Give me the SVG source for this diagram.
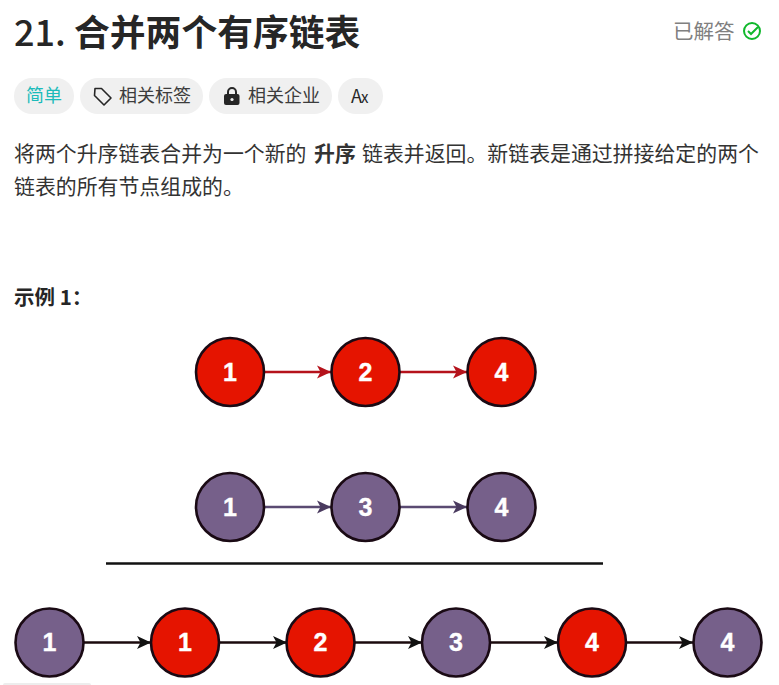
<svg xmlns="http://www.w3.org/2000/svg" width="779" height="685" viewBox="0 0 779 685">
<style>
text{font-family:"Noto Sans CJK SC","Noto Sans",sans-serif}
.num{font-family:"Liberation Sans",Arial,sans-serif;font-weight:700;font-size:25px;fill:#fff;text-anchor:middle;stroke:#fff;stroke-width:.4}
.r{fill:#e51400;stroke:#1a0a14;stroke-width:2.6}
.p{fill:#76608a;stroke:#1a0a14;stroke-width:2.6}
.pill{fill:#f0f0f0}
.tag{font-size:18px;fill:#3c3c3c}
.body{font-size:20.900px;fill:#333}
.lr{stroke:#b5121b;stroke-width:2.500;fill:none;marker-end:url(#ar)}
.lp{stroke:#5a4a72;stroke-width:2.500;fill:none;marker-end:url(#ap)}
.lk{stroke:#1a0a0c;stroke-width:2.600;fill:none;marker-end:url(#ak)}
</style>
<defs>
<marker id="ar" markerUnits="userSpaceOnUse" markerWidth="15" markerHeight="15" refX="14" refY="7.500" orient="auto"><path d="M0 1 L14 7.500 L0 14 L3.500 7.500Z" fill="#b5121b"/></marker>
<marker id="ap" markerUnits="userSpaceOnUse" markerWidth="15" markerHeight="15" refX="14" refY="7.500" orient="auto"><path d="M0 1 L14 7.500 L0 14 L3.500 7.500Z" fill="#4a3a5f"/></marker>
<marker id="ak" markerUnits="userSpaceOnUse" markerWidth="15" markerHeight="15" refX="14" refY="7.500" orient="auto"><path d="M0 1 L14 7.500 L0 14 L3.500 7.500Z" fill="#111"/></marker>
</defs>
<rect width="779" height="685" fill="#fff"/>
<g id="header">
<text x="14" y="46" font-size="36" font-weight="500" fill="#262626">21.</text>
<text x="74" y="46" font-size="35.800" font-weight="700" fill="#262626">合并两个有序链表</text>
<text x="673" y="39" font-size="20.500" fill="#808080">已解答</text>
<circle cx="752" cy="31" r="8" fill="none" stroke="#10b82c" stroke-width="2"/>
<path d="M748 31l3 3 7-7" fill="none" stroke="#10b82c" stroke-width="2"/>
</g>
<g id="tags">
<rect class="pill" x="14" y="78" width="60" height="36" rx="18"/>
<text x="26" y="102" font-size="18" fill="#1cbbba">简单</text>
<rect class="pill" x="80" y="78" width="123" height="36" rx="18"/>
<path d="M95 88.500h6.500l9.500 9.500-7 7-9.500-9.500z" fill="none" stroke="#262626" stroke-width="1.600" stroke-linejoin="round"/>
<text class="tag" x="119" y="102">相关标签</text>
<rect class="pill" x="209" y="78" width="123" height="36" rx="18"/>
<path d="M228 94v-2a4 4 0 0 1 8 0v2" fill="none" stroke="#262626" stroke-width="2"/>
<rect x="224" y="94" width="15.500" height="11" rx="2" fill="#262626"/>
<circle cx="232" cy="99.500" r="1.600" fill="#f0f0f0"/>
<text class="tag" x="248" y="102">相关企业</text>
<rect class="pill" x="338" y="78" width="45" height="36" rx="18"/>
<text x="351" y="103" font-size="18" fill="#262626" font-family="Noto Sans">A</text>
<text x="361" y="103" font-size="15" fill="#262626" font-family="Noto Sans">x</text>
</g>
<g id="description">
<text class="body" x="14" y="161">将两个升序链表合并为一个新的</text>
<text class="body" x="314" y="161" font-weight="700">升序</text>
<text class="body" x="362" y="161">链表并返回。新链表是通过拼接给定的两个</text>
<text class="body" x="14" y="194">链表的所有节点组成的。</text>
<text x="14" y="305" font-size="20.500" font-weight="700" fill="#262626">示例 1：</text>
</g>
<rect x="3" y="683" width="88" height="4" rx="2" fill="#ededed"/>
<g id="connectors">
<path class="lr" d="M264 372H331"/>
<path class="lr" d="M400 372H467"/>
<path class="lp" d="M264 507H331"/>
<path class="lp" d="M400 507H467"/>
<path d="M106 563.500H603" stroke="#111" stroke-width="2.500" fill="none"/>
<path class="lk" d="M84 642.500H151"/>
<path class="lk" d="M219 642.500H287"/>
<path class="lk" d="M355 642.500H422"/>
<path class="lk" d="M490 642.500H558"/>
<path class="lk" d="M626 642.500H693"/>
</g>
<g id="n1"><circle class="r" cx="230" cy="372" r="34"/><text class="num" x="230" y="380.500">1</text></g>
<g id="n2"><circle class="r" cx="365.500" cy="372" r="34"/><text class="num" x="365.500" y="380.500">2</text></g>
<g id="n3"><circle class="r" cx="501.500" cy="372" r="34"/><text class="num" x="501.500" y="380.500">4</text></g>
<g id="n4"><circle class="p" cx="230" cy="507" r="34"/><text class="num" x="230" y="515.500">1</text></g>
<g id="n5"><circle class="p" cx="365.500" cy="507" r="34"/><text class="num" x="365.500" y="515.500">3</text></g>
<g id="n6"><circle class="p" cx="501.500" cy="507" r="34"/><text class="num" x="501.500" y="515.500">4</text></g>
<g id="n7"><circle class="p" cx="49.500" cy="642.500" r="34"/><text class="num" x="49.500" y="651">1</text></g>
<g id="n8"><circle class="r" cx="185" cy="642.500" r="34"/><text class="num" x="185" y="651">1</text></g>
<g id="n9"><circle class="r" cx="320.500" cy="642.500" r="34"/><text class="num" x="320.500" y="651">2</text></g>
<g id="n10"><circle class="p" cx="456" cy="642.500" r="34"/><text class="num" x="456" y="651">3</text></g>
<g id="n11"><circle class="r" cx="592" cy="642.500" r="34"/><text class="num" x="592" y="651">4</text></g>
<g id="n12"><circle class="p" cx="727.500" cy="642.500" r="34"/><text class="num" x="727.500" y="651">4</text></g>
</svg>
